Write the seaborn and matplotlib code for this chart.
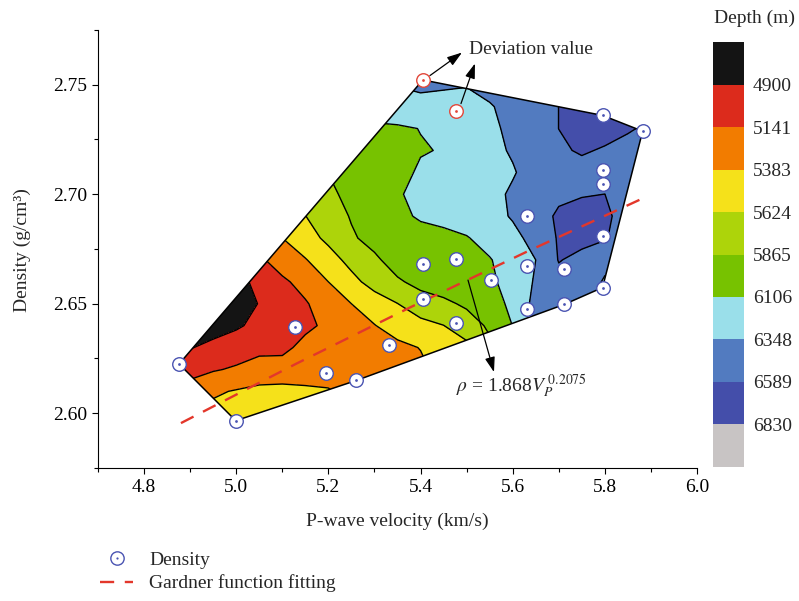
import numpy as np
import matplotlib
matplotlib.use("Agg")
import matplotlib.pyplot as plt
import matplotlib.cm as cm
from matplotlib.colors import ListedColormap, BoundaryNorm
from matplotlib.patches import Polygon
from matplotlib.lines import Line2D
from matplotlib.legend_handler import HandlerTuple
from matplotlib.ticker import MultipleLocator, ScalarFormatter
import seaborn as sns

# ---------------- data ----------------
density_v = [4.876, 4.999, 5.128, 5.194, 5.261, 5.332, 5.405, 5.405, 5.478, 5.478,
             5.554, 5.632, 5.632, 5.632, 5.712, 5.712, 5.795, 5.795, 5.795, 5.795,
             5.795, 5.882]
density_rho = [2.6225, 2.5966, 2.6393, 2.6182, 2.6150, 2.6310, 2.6680, 2.6522, 2.6706, 2.6410,
               2.6608, 2.6899, 2.6673, 2.6477, 2.6658, 2.6497, 2.7360, 2.7109, 2.7048, 2.6808,
               2.6574, 2.7288]
deviation_v = [5.405, 5.478]
deviation_rho = [2.7522, 2.7378]

gardner_v = [4.88, 5.13, 5.38, 5.63, 5.88]
gardner_rho = [2.5955, 2.6226, 2.6486, 2.6737, 2.6979]

depth_ticks = [4900, 5141, 5383, 5624, 5865, 6106, 6348, 6589, 6830]
band_edges = [4659, 4900, 5141, 5383, 5624, 5865, 6106, 6348, 6589, 6830, 7071]
band_colors = ["#141414", "#dc2b1c", "#f27c00", "#f5e11a", "#add40a",
               "#77c200", "#9adfea", "#527bc0", "#444eaa", "#c8c4c4"]

# depth (m) sampled on a regular grid of the (V, rho) plane
grid_v = [4.85, 4.90, 4.95, 5.00, 5.05, 5.10, 5.15, 5.20, 5.25, 5.30, 5.35,
          5.40, 5.45, 5.50, 5.55, 5.60, 5.65, 5.70, 5.75, 5.80, 5.85, 5.90]
grid_rho = [2.59, 2.60, 2.61, 2.62, 2.63, 2.64, 2.65, 2.66, 2.67,
            2.68, 2.69, 2.70, 2.71, 2.72, 2.73, 2.74, 2.75, 2.76]
depth_grid = [
    [5300, 5450, 5550, 5550, 5500, 5450, 5400, 5350, 5300, 5300, 5350, 5450, 5600, 5750, 5950, 6200, 6450, 6500, 6450, 6300, 6300, 6300],
    [5200, 5350, 5450, 5560, 5520, 5450, 5420, 5380, 5330, 5300, 5320, 5400, 5550, 5700, 5900, 6150, 6400, 6500, 6450, 6350, 6300, 6300],
    [5100, 5250, 5350, 5400, 5450, 5460, 5420, 5400, 5300, 5280, 5300, 5380, 5500, 5650, 5850, 6100, 6350, 6450, 6450, 6350, 6300, 6300],
    [5000, 5050, 5120, 5170, 5220, 5230, 5280, 5290, 5300, 5330, 5340, 5340, 5450, 5600, 5800, 6050, 6300, 6450, 6450, 6350, 6300, 6300],
    [4950, 4890, 4950, 5020, 5090, 5090, 5200, 5250, 5260, 5300, 5330, 5390, 5520, 5560, 5820, 6120, 6400, 6450, 6450, 6350, 6300, 6300],
    [4850, 4800, 4820, 4870, 4960, 5030, 5100, 5180, 5290, 5375, 5480, 5540, 5620, 5760, 5900, 6110, 6380, 6450, 6450, 6350, 6300, 6300],
    [4800, 4750, 4750, 4780, 4910, 5020, 5120, 5260, 5383, 5500, 5620, 5780, 5820, 5900, 6000, 6160, 6420, 6480, 6470, 6300, 6300, 6300],
    [4800, 4750, 4750, 4800, 4980, 5100, 5220, 5383, 5550, 5720, 5840, 5920, 5980, 6020, 6085, 6150, 6380, 6520, 6500, 6320, 6320, 6320],
    [4900, 4850, 4850, 4900, 5100, 5250, 5370, 5520, 5700, 5830, 5950, 5990, 6000, 6040, 6090, 6230, 6348, 6600, 6530, 6420, 6400, 6400],
    [5000, 5000, 5000, 5050, 5150, 5383, 5520, 5680, 5840, 5930, 5980, 6000, 6020, 6090, 6200, 6280, 6430, 6610, 6650, 6610, 6450, 6400],
    [5200, 5200, 5250, 5300, 5350, 5480, 5620, 5760, 5880, 5960, 6040, 6140, 6200, 6230, 6260, 6370, 6500, 6620, 6670, 6640, 6480, 6450],
    [5350, 5400, 5450, 5500, 5550, 5600, 5680, 5800, 5950, 6000, 6080, 6180, 6230, 6240, 6280, 6380, 6480, 6550, 6575, 6590, 6450, 6450],
    [5500, 5550, 5600, 5650, 5700, 5750, 5800, 5870, 5950, 6010, 6050, 6130, 6200, 6240, 6280, 6330, 6440, 6500, 6520, 6500, 6450, 6450],
    [5600, 5650, 5700, 5750, 5800, 5850, 5900, 5950, 5980, 6030, 6060, 6095, 6115, 6230, 6290, 6370, 6460, 6560, 6610, 6570, 6520, 6500],
    [5700, 5750, 5800, 5850, 5900, 5950, 6000, 6050, 6080, 6090, 6080, 6110, 6200, 6250, 6300, 6400, 6500, 6590, 6680, 6660, 6610, 6550],
    [5800, 5850, 5900, 5950, 6000, 6050, 6080, 6100, 6120, 6150, 6230, 6260, 6250, 6260, 6330, 6420, 6500, 6590, 6650, 6650, 6600, 6550],
    [6000, 6000, 6050, 6100, 6150, 6200, 6250, 6300, 6300, 6300, 6360, 6400, 6380, 6360, 6420, 6500, 6550, 6600, 6650, 6650, 6600, 6550],
    [6100, 6100, 6150, 6200, 6250, 6300, 6350, 6400, 6400, 6400, 6400, 6450, 6450, 6450, 6480, 6520, 6560, 6600, 6650, 6650, 6600, 6550],
]

# ---------------- style ----------------
sns.set_theme(style="ticks")
plt.rcParams["font.family"] = ["Liberation Serif", "DejaVu Serif"]
plt.rcParams["mathtext.fontset"] = "stix"
plt.rcParams["axes.linewidth"] = 0.8
plt.rcParams["xtick.major.size"] = 4.5
plt.rcParams["ytick.major.size"] = 4.5
plt.rcParams["xtick.minor.size"] = 3
plt.rcParams["ytick.minor.size"] = 3
plt.rcParams["xtick.major.width"] = 0.8
plt.rcParams["ytick.major.width"] = 0.8
plt.rcParams["xtick.minor.width"] = 0.8
plt.rcParams["ytick.minor.width"] = 0.8

BLUE = "#4a54b2"
RED_PT = "#e2473a"
RED_LINE = "#e3372b"
FS = 14

W, H = 799, 601
fig = plt.figure(figsize=(W / 100, H / 100), dpi=100)
ax = fig.add_axes([98 / W, 1 - 468 / H, 599 / W, 438 / H])


def convex_hull(points):
    pts = sorted(set(points))

    def cross(o, a, b):
        return (a[0] - o[0]) * (b[1] - o[1]) - (a[1] - o[1]) * (b[0] - o[0])

    lower = []
    for p in pts:
        while len(lower) >= 2 and cross(lower[-2], lower[-1], p) <= 0:
            lower.pop()
        lower.append(p)
    upper = []
    for p in reversed(pts):
        while len(upper) >= 2 and cross(upper[-2], upper[-1], p) <= 0:
            upper.pop()
        upper.append(p)
    return lower[:-1] + upper[:-1]


all_pts = list(zip(density_v + deviation_v, density_rho + deviation_rho))
hull = convex_hull(all_pts)
hull_patch = Polygon(hull, closed=True, facecolor="none", edgecolor="black",
                     lw=1.1, zorder=3, joinstyle="miter")
ax.add_patch(hull_patch)

X, Y = np.meshgrid(grid_v, grid_rho)
Z = np.array(depth_grid, dtype=float)
cf = ax.contourf(X, Y, Z, levels=band_edges, colors=band_colors, zorder=1)
cf.set_clip_path(hull_patch)
cl = ax.contour(X, Y, Z, levels=depth_ticks, colors="black", linewidths=1.0, zorder=2)
cl.set_clip_path(hull_patch)

# Gardner fitting line
sns.lineplot(x=gardner_v, y=gardner_rho, color=RED_LINE, lw=1.7,
             linestyle=(0, (6, 4.5)), ax=ax, zorder=4, legend=False,
             sort=False, estimator=None)

# data points
sns.scatterplot(x=density_v, y=density_rho, s=95, marker="o", color="white",
                edgecolor=BLUE, linewidth=1.0, ax=ax, zorder=5, legend=False)
sns.scatterplot(x=density_v, y=density_rho, s=4, marker="o", color=BLUE,
                edgecolor=BLUE, linewidth=0, ax=ax, zorder=6, legend=False)
sns.scatterplot(x=deviation_v, y=deviation_rho, s=95, marker="o", color="white",
                edgecolor=RED_PT, linewidth=1.0, ax=ax, zorder=5, legend=False)
sns.scatterplot(x=deviation_v, y=deviation_rho, s=4, marker="o", color=RED_PT,
                edgecolor=RED_PT, linewidth=0, ax=ax, zorder=6, legend=False)

# axes
ax.set_xlim(4.7, 6.0)
ax.set_ylim(2.575, 2.775)
ax.xaxis.set_major_locator(MultipleLocator(0.2))
ax.xaxis.set_minor_locator(MultipleLocator(0.1))
ax.yaxis.set_major_locator(MultipleLocator(0.05))
ax.yaxis.set_minor_locator(MultipleLocator(0.025))
fmt = ScalarFormatter(useOffset=False)
ax.yaxis.set_major_formatter(fmt)
ax.tick_params(axis="both", which="both", direction="out", labelsize=FS, colors="black")
for s in ["top", "right"]:
    ax.spines[s].set_visible(False)
for s in ["left", "bottom"]:
    ax.spines[s].set_color("black")
ax.set_xlabel("P-wave velocity (km/s)", fontsize=FS, va="center")
ax.set_ylabel("Density (g/cm\u00b3)", fontsize=FS, va="center")
ax.xaxis.set_label_coords(0.5, -(521 - 468) / 438)
ax.yaxis.set_label_coords((22 - 98) / 599, 0.498)

# annotations
arrow_kw = dict(arrowstyle="-|>,head_length=0.9,head_width=0.3", color="black",
                lw=0.9, mutation_scale=10, shrinkA=0, shrinkB=0)
ax.annotate("", xy=(5.4899, 2.7647), xytext=(5.4205, 2.7542),
            arrowprops=arrow_kw, annotation_clip=False, zorder=7)
ax.annotate("", xy=(5.5181, 2.7597), xytext=(5.4878, 2.7414),
            arrowprops=arrow_kw, annotation_clip=False, zorder=7)
ax.text(5.5051, 2.7661, "Deviation value", fontsize=FS, ha="left", va="center",
        clip_on=False)
ax.annotate("", xy=(5.5594, 2.6188), xytext=(5.503, 2.6608),
            arrowprops=arrow_kw, annotation_clip=False, zorder=7)
ax.text(5.4769, 2.6122, r"$\rho$ = 1.868$V_P^{\;0.2075}$", fontsize=FS,
        ha="left", va="center")

# colorbar
cmap = ListedColormap(band_colors)
norm = BoundaryNorm(band_edges, cmap.N)
cax = fig.add_axes([712.7 / W, 1 - 466.7 / H, 31.3 / W, 424.4 / H])
cb = fig.colorbar(cm.ScalarMappable(norm=norm, cmap=cmap), cax=cax,
                  ticks=depth_ticks, spacing="uniform")
cb.set_ticklabels([str(t) for t in depth_ticks])
cax.invert_yaxis()
cb.outline.set_visible(False)
cax.tick_params(length=0, labelsize=FS, pad=6.5)
cax.minorticks_off()
fig.text(754 / W, 1 - 18 / H, "Depth (m)", fontsize=FS, ha="center", va="center")

# legend
h_circ = Line2D([], [], marker="o", ls="none", ms=9.6, mfc="white", mec=BLUE, mew=1.0)
h_dot = Line2D([], [], marker="o", ls="none", ms=1.6, mfc=BLUE, mec=BLUE, mew=0)
h_line = Line2D([], [], color=RED_LINE, lw=1.7, ls=(0, (6, 4.5)))
fig.legend([(h_circ, h_dot), h_line], ["Density", "Gardner function fitting"],
           handler_map={tuple: HandlerTuple(ndivide=1)},
           loc="upper left", bbox_to_anchor=(100 / W, 1 - 551 / H),
           frameon=False, fontsize=FS, handlelength=1.7, handletextpad=0.82,
           labelspacing=0.3, borderpad=0, borderaxespad=0)

fig.savefig("out.png", dpi=100)
